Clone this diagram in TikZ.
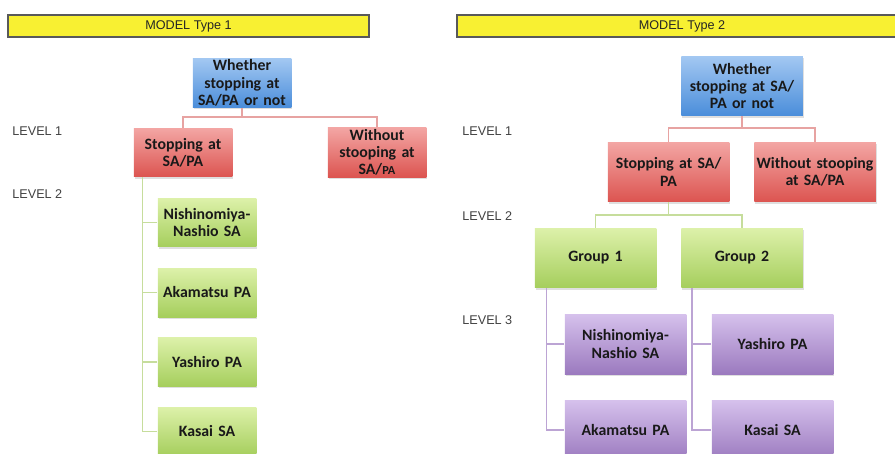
\documentclass[tikz,border=0pt]{standalone}
\usepackage{fontspec}
\setmainfont{Carlito}
\newfontfamily\lblfont{Liberation Sans}
\usepackage{xcolor}
\usetikzlibrary{shadows}

\definecolor{barfill}{HTML}{F8F032}
\definecolor{blueT}{HTML}{A3C8F2}
\definecolor{blueB}{HTML}{4A8DDA}
\definecolor{redT}{HTML}{F3A6A4}
\definecolor{redB}{HTML}{DC5450}
\definecolor{grnT}{HTML}{DDF1AA}
\definecolor{grnB}{HTML}{A5CE5C}
\definecolor{purT}{HTML}{D6C1EC}
\definecolor{purB}{HTML}{9B7ABF}
\definecolor{redLn}{HTML}{E7A3A2}
\definecolor{grnLn}{HTML}{C6DD9C}
\definecolor{purLn}{HTML}{BCA4D4}

\begin{document}
\begin{tikzpicture}[
                x=0.02cm, y=-0.02cm,
                font=\fontsize{9}{9.8}\selectfont\bfseries,
                box/.style={align=center, inner sep=1pt, text=black!90, drop shadow={opacity=0.25, shadow xshift=0.6pt, shadow yshift=-0.9pt}},
                smallbox/.style={box, minimum width=1.96cm, minimum height=0.98cm, text width=1.9cm},
                bigbox/.style={box, minimum width=2.42cm, minimum height=1.2cm, text width=2.36cm},
                rootbox/.style={top color=blueT, bottom color=blueB},
                redbox/.style={top color=redT, bottom color=redB},
                grnbox/.style={top color=grnT, bottom color=grnB},
                purbox/.style={top color=purT, bottom color=purB},
                titlebar/.style={draw=black!65, line width=0.8pt, fill=barfill, minimum height=0.44cm, inner sep=0pt, font=\lblfont\fontsize{7.2}{8}\selectfont, text=black!85},
                lvl/.style={anchor=west, inner sep=0pt, font=\lblfont\fontsize{7.2}{8}\selectfont, text=black!75},
                redline/.style={draw=redLn, line width=1pt},
                grnline/.style={draw=grnLn, line width=1pt},
                purline/.style={draw=purLn, line width=1pt}
            ]
            \useasboundingbox (0,0) rectangle (895,453);
            \clip (0,0) rectangle (895,453);
            % titles
            \node[titlebar, minimum width=7.22cm] (title1) at (188.5,26) {MODEL Type 1};
            \node[titlebar, minimum width=9cm] (title2) at (682,26) {MODEL Type 2};
            % model type 1
            \node[lvl] (lvA1) at (12,131) {LEVEL 1};
            \node[lvl] (lvA2) at (12,194) {LEVEL 2};
            \node[smallbox, rootbox] (root1) at (242,83) {Whether\\stopping at\\SA/PA or not};
            \node[smallbox, redbox] (stop1) at (183,152.5) {Stopping at\\SA/PA};
            \node[smallbox, redbox] (without1) at (377,152.5) {Without\\stooping at\\SA/{\fontsize{7}{8}\selectfont PA}};
            \node[smallbox, grnbox] (nish1) at (207,222.5) {Nishinomiya-\\Nashio SA};
            \node[smallbox, grnbox] (aka1) at (207,292.5) {Akamatsu PA};
            \node[smallbox, grnbox] (yash1) at (207,362) {Yashiro PA};
            \node[smallbox, grnbox] (kasai1) at (207,431.5) {Kasai SA};
            \draw[redline] (root1.south) -- ++(0,9) -| (stop1.north);
            \draw[redline] (root1.south) -- ++(0,9) -| (without1.north);
            \foreach \n in {nish1,aka1,yash1,kasai1}
                \draw[grnline] ([xshift=0.18cm]stop1.south west) |- (\n.west);
            % model type 2
            \node[lvl] (lvB1) at (462,131) {LEVEL 1};
            \node[lvl] (lvB2) at (462,216) {LEVEL 2};
            \node[lvl] (lvB3) at (462,320) {LEVEL 3};
            \node[bigbox, rootbox] (root2) at (742,86) {Whether\\stopping at SA/\\PA or not};
            \node[bigbox, redbox] (stop2) at (668.5,172) {Stopping at SA/\\PA};
            \node[bigbox, redbox] (without2) at (815,172) {Without stooping\\at SA/PA};
            \node[bigbox, grnbox] (group1) at (595.5,258) {Group 1};
            \node[bigbox, grnbox] (group2) at (742,258) {Group 2};
            \node[bigbox, purbox] (nish2) at (625.5,344) {Nishinomiya-\\Nashio SA};
            \node[bigbox, purbox] (aka2) at (625.5,430) {Akamatsu PA};
            \node[bigbox, purbox] (yash2) at (772.5,344) {Yashiro PA};
            \node[bigbox, purbox] (kasai2) at (772.5,430) {Kasai SA};
            \draw[redline] (root2.south) -- ++(0,12) -| (stop2.north);
            \draw[redline] (root2.south) -- ++(0,12) -| (without2.north);
            \draw[grnline] (stop2.south) -- ++(0,13) -| (group1.north);
            \draw[grnline] (stop2.south) -- ++(0,13) -| (group2.north);
            \foreach \n in {nish2,aka2}
                \draw[purline] ([xshift=0.24cm]group1.south west) |- (\n.west);
            \foreach \n in {yash2,kasai2}
                \draw[purline] ([xshift=0.22cm]group2.south west) |- (\n.west);
        \end{tikzpicture}
\end{document}
